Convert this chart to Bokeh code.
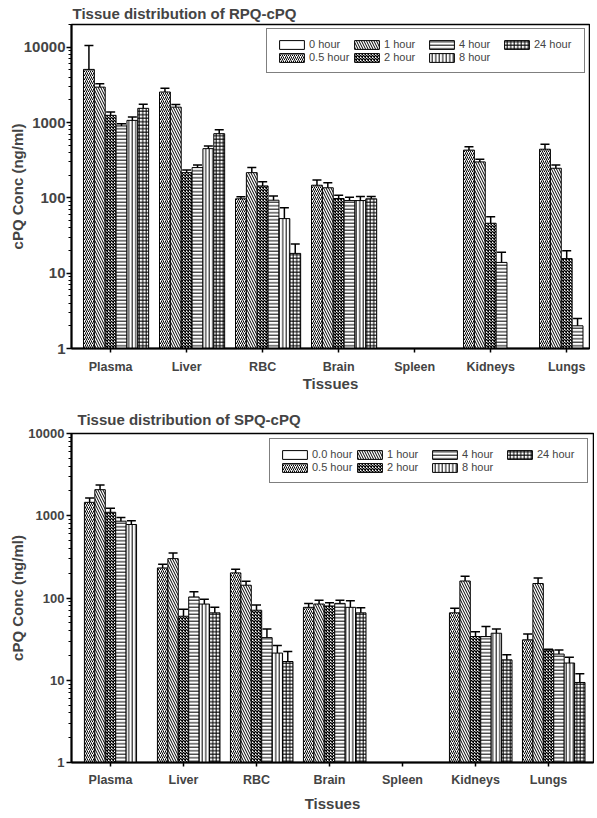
from bokeh.plotting import figure
from bokeh.models import (ColumnDataSource, Whisker, TeeHead, FixedTicker,
                          NumeralTickFormatter, Legend, LegendItem, Range1d)
from bokeh.layouts import column
from bokeh.embed import file_html
from bokeh.resources import INLINE

tissues = ["Plasma", "Liver", "RBC", "Brain", "Spleen", "Kidneys", "Lungs"]

# ---- RPQ-cPQ (top) ----
rpq_labels = ["0 hour", "0.5 hour", "1 hour", "2 hour", "4 hour", "8 hour", "24 hour"]
rpq_0h = [None, None, None, None, None, None, None]
rpq_05h = [5070, 2540, 97, 147, None, 430, 442]
rpq_1h = [2950, 1600, 216, 136, None, 300, 247]
rpq_2h = [1245, 216, 144, 98, None, 46, 15.6]
rpq_4h = [900, 252, 93, 92, None, 13.9, 2.0]
rpq_8h = [1067, 450, 53, 92, None, None, None]
rpq_24h = [1542, 711, 18.3, 97, None, None, None]
rpq_0h_err = [None, None, None, None, None, None, None]
rpq_05h_err = [5430, 300, 6, 25, None, 48, 72]
rpq_1h_err = [320, 140, 36, 22, None, 25, 26]
rpq_2h_err = [130, 19, 20, 10, None, 10, 4.3]
rpq_4h_err = [65, 21, 13, 10, None, 5, 0.5]
rpq_8h_err = [116, 39, 21, 12, None, None, None]
rpq_24h_err = [200, 93, 6, 7, None, None, None]

# ---- SPQ-cPQ (bottom) ----
spq_labels = ["0.0 hour", "0.5 hour", "1 hour", "2 hour", "4 hour", "8 hour", "24 hour"]
spq_0h = [None, None, None, None, None, None, None]
spq_05h = [1456, 232, 202, 77, None, 66, 31]
spq_1h = [2075, 301, 143, 84.5, None, 161, 150]
spq_2h = [1102, 60, 71, 80, None, 34, 23.4]
spq_4h = [859, 103, 33, 86, None, 34, 20.8]
spq_8h = [783, 84.4, 21.4, 77, None, 37.3, 16.2]
spq_24h = [None, 66, 16.9, 66, None, 17.7, 9.4]
spq_0h_err = [None, None, None, None, None, None, None]
spq_05h_err = [190, 25, 21, 9, None, 9, 5.6]
spq_1h_err = [287, 51, 17, 9.5, None, 23, 25]
spq_2h_err = [131, 13, 11, 7.5, None, 5, 0.4]
spq_4h_err = [92, 16, 9, 8, None, 11, 2.6]
spq_8h_err = [84, 12, 5, 15.5, None, 4.7, 2.9]
spq_24h_err = [None, 11, 5.5, 10, None, 2.7, 2.6]

y_major = [1, 10, 100, 1000, 10000]

# styles per series
hatches = [None, "/", "\\", "x", "-", "|", "+"]
hatch_scales = [12, 4, 5, 3, 3.5, 3.5, 3.5]
hatch_weights = [1, 1, 1, 1.4, 1, 1, 1]

FONT = "Liberation Sans"
NAN = float("nan")


def clean(v):
    return NAN if v is None else v


def make_plot(title, series, errs, labels, ymax, xr, w, h, borders, ytick_size,
              ytick_standoff, ylab_standoff, xtick_standoff, xlab_standoff,
              title_offset, title_standoff, title_valign, leg_margin):
    p = figure(width=w, height=h, x_range=Range1d(*xr), y_range=Range1d(1, ymax),
               y_axis_type="log", output_backend="svg", toolbar_location=None,
               min_border_left=borders[0], min_border_right=borders[1],
               min_border_top=borders[2], min_border_bottom=borders[3],
               title=title)
    p.title.text_font = FONT
    p.title.text_font_size = "15px"
    p.title.text_font_style = "bold"
    p.title.align = "left"
    p.title.vertical_align = title_valign
    p.title.offset = title_offset
    p.title.standoff = title_standoff
    p.xgrid.visible = False
    p.ygrid.visible = False
    p.outline_line_color = "black"
    p.outline_line_width = 1.5
    p.background_fill_color = "white"
    p.border_fill_color = "white"

    n = len(series)
    bw = 1.0 / n
    items = []
    for j, (vals, ers) in enumerate(zip(series, errs)):
        xs = [i + (j - (n - 1) / 2) * bw for i in range(len(tissues))]
        tops = [clean(v) for v in vals]
        uppers = [NAN if (v is None or e is None) else v + e for v, e in zip(vals, ers)]
        src = ColumnDataSource(dict(x=xs, top=tops, upper=uppers))
        kw = {}
        if hatches[j] is not None:
            kw = dict(hatch_pattern=hatches[j], hatch_scale=hatch_scales[j],
                      hatch_color="black", hatch_weight=hatch_weights[j])
        r = p.vbar(x="x", top="top", bottom=1, width=bw, source=src,
                   fill_color="white", line_color="black", line_width=1, **kw)
        wh = Whisker(base="x", lower="top", upper="upper", source=src,
                     dimension="height", line_color="black", line_width=1.5,
                     upper_head=TeeHead(size=9, line_width=1.5, line_color="black"),
                     lower_head=None, level="annotation")
        p.add_layout(wh)
        items.append(LegendItem(label=labels[j], renderers=[r]))

    leg = Legend(items=items, location="top_right", orientation="vertical", nrows=2)
    leg.margin = leg_margin
    leg.padding = 9
    leg.spacing = 1
    leg.glyph_width = 31
    leg.glyph_height = 11
    leg.label_height = 11
    leg.label_width = 41
    leg.label_standoff = 2
    leg.label_text_font = FONT
    leg.label_text_font_size = "11px"
    leg.border_line_color = "black"
    leg.border_line_width = 1.5
    leg.background_fill_color = "white"
    leg.background_fill_alpha = 1
    p.add_layout(leg)

    # x axis
    xa = p.xaxis[0]
    xa.ticker = FixedTicker(ticks=list(range(len(tissues))))
    xa.major_label_overrides = {i: t for i, t in enumerate(tissues)}
    xa.axis_label = "Tissues"
    xa.axis_label_text_font = FONT
    xa.axis_label_text_font_size = "15px"
    xa.axis_label_text_font_style = "bold"
    xa.axis_label_standoff = xlab_standoff
    xa.major_label_text_font = FONT
    xa.major_label_text_font_size = "12.5px"
    xa.major_label_text_font_style = "bold"
    xa.major_label_standoff = xtick_standoff
    xa.major_tick_out = 4
    xa.major_tick_in = 0
    xa.major_tick_line_width = 1.5
    xa.minor_tick_line_color = None
    xa.axis_line_width = 2

    ya = p.yaxis[0]
    minors = [m * d for d in y_major for m in range(2, 10)]
    ya.ticker = FixedTicker(ticks=y_major, minor_ticks=minors)
    ya.formatter = NumeralTickFormatter(format="0")
    ya.axis_label = "cPQ Conc (ng/ml)"
    ya.axis_label_text_font = FONT
    ya.axis_label_text_font_size = "15px"
    ya.axis_label_text_font_style = "bold"
    ya.axis_label_standoff = ylab_standoff
    ya.major_label_text_font = FONT
    ya.major_label_text_font_size = ytick_size
    ya.major_label_text_font_style = "bold"
    ya.major_label_standoff = ytick_standoff
    ya.major_tick_out = 5
    ya.major_tick_in = 0
    ya.minor_tick_out = 3
    ya.minor_tick_in = 0
    ya.major_tick_line_width = 1.5
    ya.minor_tick_line_width = 1
    ya.axis_line_width = 2
    return p


p1 = make_plot("Tissue distribution of RPQ-cPQ",
               [rpq_0h, rpq_05h, rpq_1h, rpq_2h, rpq_4h, rpq_8h, rpq_24h],
               [rpq_0h_err, rpq_05h_err, rpq_1h_err, rpq_2h_err, rpq_4h_err, rpq_8h_err, rpq_24h_err],
               rpq_labels, 20000, (-0.515, 6.30), 590, 398, (69, 1, 24, 50), "15px",
               1, -5, 7, -2, 1, 2, "top", 4)
p2 = make_plot("Tissue distribution of SPQ-cPQ",
               [spq_0h, spq_05h, spq_1h, spq_2h, spq_4h, spq_8h, spq_24h],
               [spq_0h_err, spq_05h_err, spq_1h_err, spq_2h_err, spq_4h_err, spq_8h_err, spq_24h_err],
               spq_labels, 10000, (-0.534, 6.616), 594, 419, (71, 1, 35, 55), "13px",
               2, -1, 6, 5, 6, 12, "bottom", 5)

layout = column(p1, p2)
open("out.html", "w").write(file_html(layout, INLINE))
